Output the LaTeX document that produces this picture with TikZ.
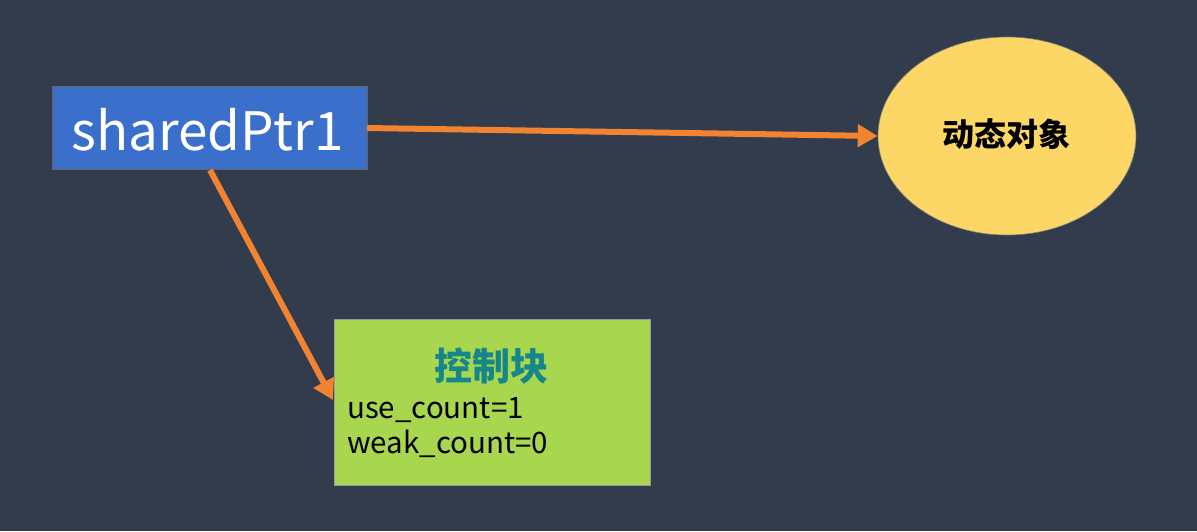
\documentclass[tikz,border=0pt]{standalone}
\usepackage{fontspec}
\setmainfont{Noto Sans CJK SC}
\usetikzlibrary{shapes.geometric,arrows.meta}
\definecolor{bg}{HTML}{323C4D}
\definecolor{ptrblue}{HTML}{3A70CC}
\definecolor{objyellow}{HTML}{FDD766}
\definecolor{ctlgreen}{HTML}{A8D64E}
\definecolor{arrorange}{HTML}{F28431}
\definecolor{teal}{HTML}{16868A}
\tikzset{
  ptr/.style={draw=black!60, line width=0.6pt, fill=ptrblue, text=white, minimum width=315pt, minimum height=83pt, inner sep=0pt, font=\fontsize{53}{58}\selectfont},
  obj/.style={ellipse, draw=black!50, line width=0.6pt, fill=objyellow, minimum width=258pt, minimum height=198pt, inner sep=0pt, font=\fontsize{32}{36}\selectfont\bfseries},
  ctl/.style={draw=black!40, line width=0.6pt, fill=ctlgreen, minimum width=316pt, minimum height=166pt, inner sep=0pt},
  countlbl/.style={anchor=base west, font=\fontsize{29.5}{33}\selectfont, inner sep=0pt},
  link/.style={draw=arrorange, line width=6pt, -{Triangle[length=20pt,width=22pt]}}
}
\begin{document}
\begin{tikzpicture}[x=1pt,y=-1pt]
\fill[bg] (0,0) rectangle (1197,531);
\useasboundingbox (0,0) rectangle (1197,531);
\node[ptr] (p) at (209.5,127.5) {};
\node[text=white, font=\fontsize{53}{58}\selectfont, inner sep=0pt] (pt) at (207.5,130) {sharedPtr1};
\node[obj] (o) at (1007,136) {};
\node[font=\fontsize{32}{36}\selectfont\bfseries, inner sep=0pt] (ot) at (1006,134) {动态对象};
\node[ctl] (c) at (492,402) {};
\node[font=\fontsize{38}{42}\selectfont\bfseries, text=teal, inner sep=0pt] (ct) at (491,366) {控制块};
\node[countlbl] (u) at (347,418) {use\_count=1};
\node[countlbl] (w) at (347,453) {weak\_count=0};
\coordinate (a1s) at (367,128);
\coordinate (a2s) at (210,170);
\coordinate (a2e) at (333,400);
\draw[link] (a1s) -- (o.west);
\draw[link] (a2s) -- (a2e);
\end{tikzpicture}
\end{document}
